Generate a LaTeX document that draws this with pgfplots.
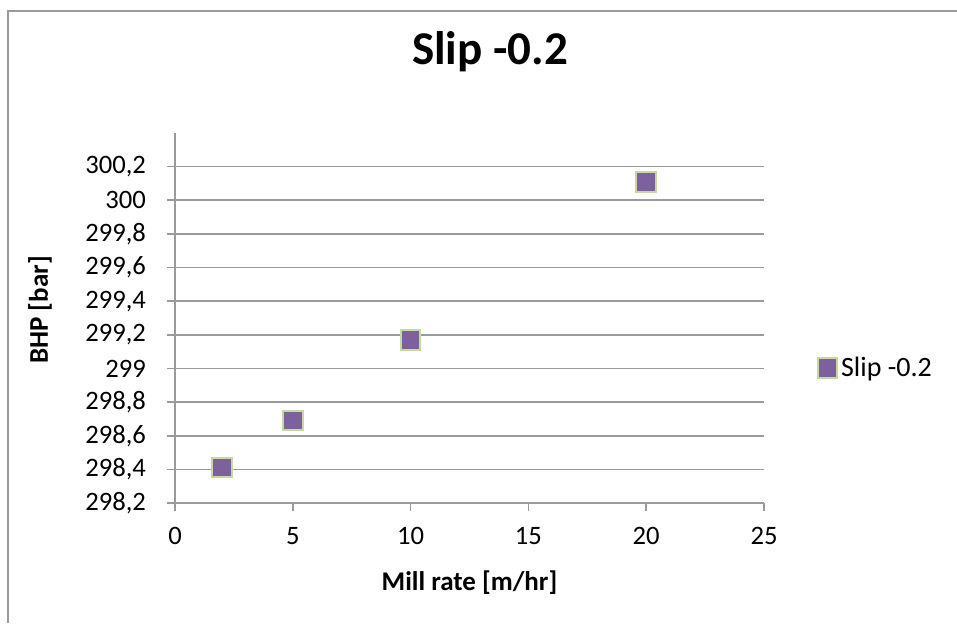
\documentclass[border=0pt]{standalone}
\usepackage{pgfplots}
\pgfplotsset{compat=1.18}
\usepackage{fontspec}
\setmainfont{Carlito}
\definecolor{gridgray}{HTML}{9A9A9A}
\definecolor{mkfill}{HTML}{7D619F}
\definecolor{mkedge}{HTML}{C6D9A0}
\begin{document}
\begin{tikzpicture}[x=0.5pt,y=0.5pt]
\useasboundingbox (0,0) rectangle (957,623);
\draw[gridgray, line width=1pt] (8,0) -- (8,612) -- (957,612);
\node[font=\bfseries\fontsize{23.5}{28}\selectfont] at (490,571) {Slip -0.2};
\begin{axis}[
  at={(87.5pt,60pt)}, anchor=south west,
  scale only axis, width=294.5pt, height=185pt,
  xmin=0, xmax=25, ymin=298.2, ymax=300.4,
  axis x line=bottom, axis y line=left,
  axis line style={-, gridgray, line width=0.8pt},
  xtick={0,5,10,15,20,25},
  ytick={298.2,298.4,298.6,298.8,299,299.2,299.4,299.6,299.8,300,300.2},
  yticklabels={{298,2},{298,4},{298,6},{298,8},{299},{299,2},{299,4},{299,6},{299,8},{300},{300,2}},
  xticklabels={0,5,10,15,20,25},
  tick align=outside, major tick length=4pt,
  tick style={gridgray, line width=0.8pt},
  ymajorgrids, grid style={gridgray, line width=0.8pt},
  /pgf/number format/assume math mode=true,
  ticklabel style={font=\fontsize{13.3}{15}\selectfont},
  yticklabel style={xshift=-7pt},
  xticklabel style={yshift=-4.5pt},
  xlabel={Mill rate [m/hr]}, ylabel={BHP [bar]},
  xlabel style={at={(axis description cs:0.5,-0.216)}, anchor=center, font=\bfseries\fontsize{13.5}{16}\selectfont},
  ylabel style={at={(axis description cs:-0.229,0.522)}, anchor=center, rotate=0, font=\bfseries\fontsize{13.5}{16}\selectfont},
  legend style={at={(axis description cs:1.08,0.365)}, anchor=west, draw=none, fill=none, font=\fontsize{14}{16}\selectfont},
  legend cell align=left,
  clip=false,
]
\addplot[only marks, mark=square*, mark size=4.9pt, mark options={fill=mkfill, draw=mkedge, line width=1pt}]
  coordinates {(2,298.41) (5,298.69) (10,299.17) (20,300.11)};
\addlegendentry{Slip -0.2}
\end{axis}
\end{tikzpicture}
\end{document}
